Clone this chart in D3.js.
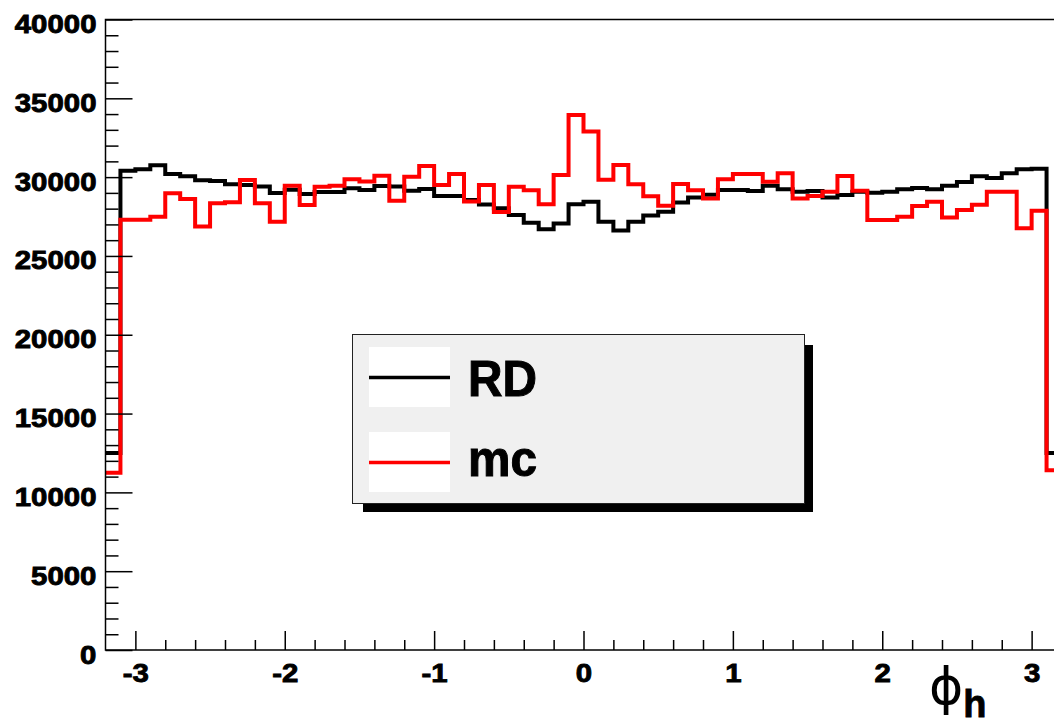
<!DOCTYPE html>
<html>
<head>
<meta charset="utf-8">
<script src="https://cdn.jsdelivr.net/npm/d3@7"></script>
<style>
    body { margin: 0; background: #fff; }
    svg { display: block; }
    text { font-family: "Liberation Sans", Arial, sans-serif; font-weight: bold; }
</style>
</head>
<body>
<div id="chart"></div>
<script>
// histogram binning: 64 bins of 0.1 over [-3.2, 3.2]
const xMin = -3.2;
const xMax = 3.2;
const binWidth = 0.1;

// RD (real data) bin contents
const rdCounts = [
    12500, 30400, 30500, 30750, 30200, 30050, 29800, 29750, 29550, 29500,
    29400, 29000, 29200, 28930, 29050, 29050, 29290, 29180, 29440, 29400,
    29140, 29250, 28800, 28800, 28550, 28260, 28020, 27600, 27100, 26690,
    27050, 28280, 28440, 27170, 26610, 27170, 27560, 27810, 28390, 28700,
    28880, 29180, 29180, 29120, 29450, 29230, 29080, 29120, 28700, 28870,
    29080, 29010, 29080, 29230, 29310, 29230, 29450, 29690, 30050, 29940,
    30240, 30500, 30530, 12500
];

// mc bin contents
const mcCounts = [
    11250, 27300, 27300, 27490, 28970, 28610, 26860, 28340, 28400, 29820,
    28340, 27170, 29460, 28230, 29390, 29450, 29870, 29730, 30080, 28500,
    30020, 30710, 29500, 30200, 28460, 29500, 27790, 29390, 29160, 28280,
    30130, 33940, 32900, 29840, 30770, 29550, 28780, 28180, 29560, 29160,
    28650, 29860, 30200, 30200, 29710, 30240, 28650, 28800, 29080, 30070,
    29140, 27280, 27280, 27490, 28170, 28440, 27440, 27910, 28250, 29080,
    29080, 26750, 27860, 11400
];

const seriesNames = ["RD", "mc"];
const seriesColors = ["#000000", "#ff0000"];

const yMajorTicks = [0, 5000, 10000, 15000, 20000, 25000, 30000, 35000, 40000];
const xMajorTicks = [-3, -2, -1, 0, 1, 2, 3];

const width = 1054;
const height = 725;
const plot = { left: 105.5, right: 1061.5, top: 19.5, bottom: 650 };

const svg = d3.select("#chart")
    .append("svg")
    .attr("width", width)
    .attr("height", height);

const xScale = d3.scaleLinear()
    .domain([xMin, xMax])
    .range([plot.left, plot.right]);

const yScale = d3.scaleLinear()
    .domain([0, 40000])
    .range([plot.bottom, plot.top]);

// step outline of a histogram
const histPoints = (counts) => {
    const pts = counts.map((c, i) => [xMin + i * binWidth, c]);
    pts.push([xMax, counts[counts.length - 1]]);
    return pts;
};

const stepLine = d3.line()
    .x(d => xScale(d[0]))
    .y(d => yScale(d[1]))
    .curve(d3.curveStepAfter);

[rdCounts, mcCounts].forEach((counts, i) => {
    svg.append("path")
        .attr("d", stepLine(histPoints(counts)))
        .attr("fill", "none")
        .attr("stroke", seriesColors[i])
        .attr("stroke-width", 4);
});

// frame, drawn over the histograms
svg.append("rect")
    .attr("x", plot.left)
    .attr("y", plot.top)
    .attr("width", plot.right - plot.left)
    .attr("height", plot.bottom - plot.top)
    .attr("fill", "none")
    .attr("stroke", "#000")
    .attr("stroke-width", 1.5);

// Axes
const yMinor = d3.range(1000, 40000, 1000).filter(v => v % 5000 !== 0);
const xMinor = d3.range(-16, 16).map(k => k * 0.2).filter(v => Math.abs(v - Math.round(v)) > 1e-6 && v > xMin + 1e-6);

const yAxis = svg.append("g")
    .attr("transform", "translate(" + plot.left + ",0)")
    .call(d3.axisLeft(yScale)
        .tickValues(yMajorTicks)
        .tickFormat(d => String(d))
        .tickSizeInner(-27)
        .tickSizeOuter(0)
        .tickPadding(8));

svg.append("g")
    .attr("transform", "translate(" + plot.left + ",0)")
    .call(d3.axisLeft(yScale)
        .tickValues(yMinor)
        .tickFormat("")
        .tickSizeInner(-13)
        .tickSizeOuter(0));

const xAxis = svg.append("g")
    .attr("transform", "translate(0," + plot.bottom + ")")
    .call(d3.axisBottom(xScale)
        .tickValues(xMajorTicks)
        .tickFormat(d => String(d))
        .tickSizeInner(-19)
        .tickSizeOuter(0)
        .tickPadding(14));

svg.append("g")
    .attr("transform", "translate(0," + plot.bottom + ")")
    .call(d3.axisBottom(xScale)
        .tickValues(xMinor)
        .tickFormat("")
        .tickSizeInner(-10)
        .tickSizeOuter(0));

svg.selectAll(".domain").remove();
svg.selectAll(".tick line")
    .attr("stroke", "#000")
    .attr("stroke-width", 1.5);

// heavy, slightly widened labels like the original
[yAxis, xAxis].forEach(ax => {
    ax.selectAll("text")
        .attr("transform", "scale(1.13,1)")
        .style("font-size", "26px")
        .attr("fill", "#000")
        .attr("stroke", "#000")
        .attr("stroke-width", 0.9);
});
yAxis.selectAll("text").attr("dy", "0.5em");

// axis title
const title = svg.append("text")
    .attr("x", 929)
    .attr("y", 704)
    .attr("fill", "#000");
title.append("tspan")
    .style("font-family", "'DejaVu Sans', sans-serif")
    .style("font-weight", "normal")
    .style("font-size", "52px")
    .text("\u03d5");
title.append("tspan")
    .attr("dy", 13)
    .style("font-size", "38px")
    .attr("stroke", "#000")
    .attr("stroke-width", 0.8)
    .text("h");

// Legend
const legend = svg.append("g").attr("class", "legend");
const legendTextY = [396, 476];

legend.append("rect")
    .attr("x", 363)
    .attr("y", 345)
    .attr("width", 450)
    .attr("height", 167)
    .attr("fill", "#000");

legend.append("rect")
    .attr("x", 352.5)
    .attr("y", 334.5)
    .attr("width", 452)
    .attr("height", 169)
    .attr("fill", "#f0f0f0")
    .attr("stroke", "#222")
    .attr("stroke-width", 1);

const entries = legend.selectAll(".entry")
    .data(seriesNames)
    .enter()
    .append("g")
    .attr("class", "entry");

entries.append("rect")
    .attr("x", 369)
    .attr("y", (d, i) => 347 + i * 85)
    .attr("width", 81)
    .attr("height", 60)
    .attr("fill", "#fff");

entries.append("line")
    .attr("x1", 369)
    .attr("x2", 450)
    .attr("y1", (d, i) => 377.5 + i * 85)
    .attr("y2", (d, i) => 377.5 + i * 85)
    .attr("stroke", (d, i) => seriesColors[i])
    .attr("stroke-width", 3.5);

entries.append("text")
    .attr("x", 468)
    .attr("y", (d, i) => legendTextY[i])
    .attr("textLength", 69)
    .attr("lengthAdjust", "spacingAndGlyphs")
    .style("font-size", "50px")
    .attr("fill", "#000")
    .attr("stroke", "#000")
    .attr("stroke-width", 1)
    .text(d => d);
</script>
</body>
</html>
